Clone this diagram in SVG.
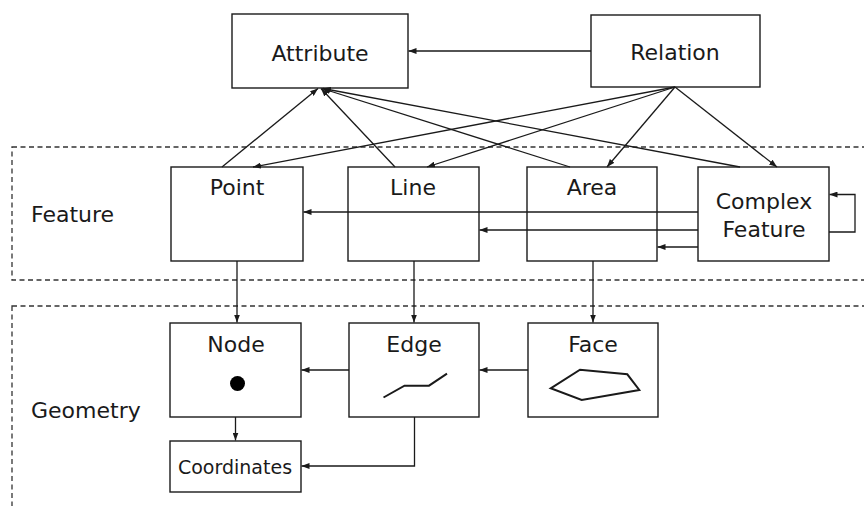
<svg xmlns="http://www.w3.org/2000/svg" width="864" height="506" viewBox="0 0 864 506">
  <defs>
    <marker id="arrow" viewBox="0 0 8 6" markerWidth="8" markerHeight="6" refX="8" refY="3" orient="auto" markerUnits="userSpaceOnUse">
      <path d="M0,0 L8,3 L0,6 z" fill="#1a1a1a"/>
    </marker>
    <style>
      .box { fill: #ffffff; stroke: #1a1a1a; stroke-width: 1.4; }
      .zone { fill: none; stroke: #333333; stroke-width: 1.3; stroke-dasharray: 5 3.5; }
      .lbl { font-family: "DejaVu Sans", "Verdana", sans-serif; font-size: 22px; fill: #1a1a1a; text-anchor: middle; }
      .zlbl { font-family: "DejaVu Sans", "Verdana", sans-serif; font-size: 22px; fill: #1a1a1a; }
      .small { font-size: 19px; }
      .conn { fill: none; stroke: #1a1a1a; stroke-width: 1.3; marker-end: url(#arrow); }
      .icon { fill: none; stroke: #1a1a1a; stroke-width: 2; stroke-linejoin: miter; }
    </style>
  </defs>

  <!-- layer zones -->
  <g id="zone-feature">
    <rect class="zone" x="12" y="147" width="862" height="133"/>
    <text class="zlbl" x="31" y="222">Feature</text>
  </g>
  <g id="zone-geometry">
    <rect class="zone" x="12" y="306" width="862" height="220"/>
    <text class="zlbl" x="31" y="418">Geometry</text>
  </g>

  <!-- top level -->
  <g id="attribute">
    <rect class="box" x="232" y="14" width="176" height="74"/>
    <text class="lbl" x="320" y="61">Attribute</text>
  </g>
  <g id="relation">
    <rect class="box" x="591" y="15" width="169" height="72"/>
    <text class="lbl" x="675" y="60">Relation</text>
  </g>

  <!-- feature layer -->
  <g id="point">
    <rect class="box" x="171" y="167" width="132" height="94"/>
    <text class="lbl" x="237" y="195">Point</text>
  </g>
  <g id="line">
    <rect class="box" x="348" y="167" width="131" height="94"/>
    <text class="lbl" x="413" y="195">Line</text>
  </g>
  <g id="area">
    <rect class="box" x="527" y="167" width="130" height="94"/>
    <text class="lbl" x="592" y="195">Area</text>
  </g>
  <g id="complex-feature">
    <rect class="box" x="698" y="167" width="131" height="94"/>
    <text class="lbl" x="764" y="209">Complex</text>
    <text class="lbl" x="764" y="237">Feature</text>
  </g>

  <!-- geometry layer -->
  <g id="node">
    <rect class="box" x="170" y="323" width="131" height="94"/>
    <text class="lbl" x="236" y="352">Node</text>
    <circle cx="237.5" cy="383.5" r="7.5" fill="#000000"/>
  </g>
  <g id="edge">
    <rect class="box" x="349" y="323" width="130" height="94"/>
    <text class="lbl" x="414" y="352">Edge</text>
    <polyline class="icon" points="383.5,397.5 404.5,385.7 429,385.7 447,373.7"/>
  </g>
  <g id="face">
    <rect class="box" x="528" y="323" width="130" height="94"/>
    <text class="lbl" x="593" y="352">Face</text>
    <polygon class="icon" points="550.7,388.3 580,369.7 627.3,374.3 639.3,390 581.7,400"/>
  </g>
  <g id="coordinates">
    <rect class="box" x="170" y="441" width="131" height="51"/>
    <text class="lbl small" x="235" y="474">Coordinates</text>
  </g>

  <!-- connectors -->
  <g id="connectors">
    <line class="conn" x1="591" y1="51" x2="408.5" y2="51"/>

    <line class="conn" x1="222" y1="167" x2="318" y2="88.5"/>
    <line class="conn" x1="395" y1="167" x2="321" y2="88.5"/>
    <line class="conn" x1="570" y1="167" x2="322" y2="88.5"/>
    <line class="conn" x1="740" y1="167" x2="323" y2="88.5"/>

    <line class="conn" x1="675" y1="87" x2="253" y2="167"/>
    <line class="conn" x1="675" y1="87" x2="427" y2="167"/>
    <line class="conn" x1="675" y1="87" x2="607" y2="167"/>
    <line class="conn" x1="675" y1="87" x2="777" y2="167"/>

    <line class="conn" x1="698" y1="212" x2="303.5" y2="212"/>
    <line class="conn" x1="698" y1="230" x2="479.5" y2="230"/>
    <line class="conn" x1="698" y1="247" x2="657.5" y2="247"/>
    <polyline class="conn" points="829,232 855,232 855,194.5 829.5,194.5"/>

    <line class="conn" x1="237" y1="261" x2="237" y2="322.5"/>
    <line class="conn" x1="414" y1="261" x2="414" y2="322.5"/>
    <line class="conn" x1="593" y1="261" x2="593" y2="322.5"/>

    <line class="conn" x1="349" y1="370" x2="301.5" y2="370"/>
    <line class="conn" x1="528" y1="370" x2="479.5" y2="370"/>
    <line class="conn" x1="235.5" y1="417" x2="235.5" y2="440.5"/>
    <polyline class="conn" points="414.5,417 414.5,466 301.5,466"/>
  </g>
</svg>
